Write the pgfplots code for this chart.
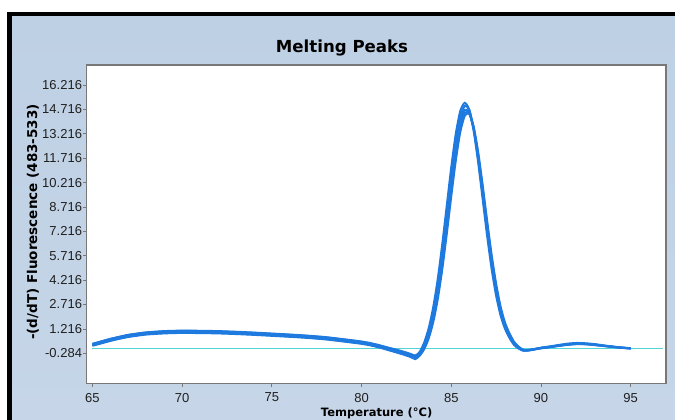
\documentclass[border=0pt]{standalone}
\usepackage{fontspec}
\setmainfont{Liberation Sans}
\newfontfamily\labelfont{DejaVu Sans}
\usepackage{pgfplots}
\usepackage{pgfplotstable}
\pgfplotsset{compat=1.18}

\definecolor{panel}{RGB}{198,214,232}
\definecolor{paneltop}{RGB}{190,208,228}
\definecolor{curve}{RGB}{30,122,222}
\definecolor{base}{RGB}{85,212,214}
\definecolor{framegray}{RGB}{120,120,120}

% melting peak curves, T = temperature, a..e = -(d/dT) fluorescence
\pgfplotstableread{
T     a      b      c      d      e
65.0  0.25   0.20   0.30   0.18   0.28
65.5  0.40   0.35   0.45   0.33   0.44
66.0  0.55   0.50   0.60   0.48   0.60
66.5  0.68   0.63   0.72   0.61   0.73
67.0  0.80   0.75   0.84   0.72   0.85
67.5  0.88   0.83   0.92   0.80   0.93
68.0  0.95   0.90   0.99   0.87   1.00
69.0  1.02   0.97   1.06   0.94   1.08
70.0  1.05   1.00   1.09   0.97   1.11
71.0  1.04   0.99   1.08   0.96   1.10
72.0  1.02   0.97   1.06   0.94   1.08
73.0  0.98   0.93   1.02   0.90   1.04
74.0  0.93   0.88   0.97   0.85   0.99
75.0  0.87   0.82   0.91   0.79   0.93
76.0  0.81   0.76   0.85   0.73   0.87
77.0  0.74   0.69   0.78   0.66   0.80
78.0  0.65   0.60   0.69   0.57   0.71
79.0  0.52   0.47   0.56   0.44   0.58
80.0  0.38   0.33   0.42   0.30   0.44
80.5  0.28   0.23   0.32   0.20   0.34
81.0  0.15   0.10   0.19   0.07   0.21
81.5  0.00  -0.06   0.04  -0.09   0.06
82.0 -0.15  -0.22  -0.10  -0.25  -0.08
82.5 -0.32  -0.39  -0.27  -0.42  -0.24
82.75 -0.42 -0.49  -0.37  -0.52  -0.33
83.0 -0.55  -0.60  -0.50  -0.64  -0.42
83.25 -0.27 -0.36  -0.19  -0.42  -0.20
83.5  0.26   0.10   0.40  -0.01   0.30
83.75 1.08   0.82   1.29   0.66   1.05
84.0  2.27   1.89   2.58   1.65   2.13
84.25 3.90   3.37   4.31   3.06   3.70
84.5  5.94   5.28   6.44   4.89   5.68
84.75 8.25   7.50   8.80   7.06   7.94
85.0 10.60   9.81  11.16   9.37  10.27
85.25 12.70 11.95  13.20  11.55  12.36
85.5 14.24  13.62  14.61  13.31  13.94
85.75 14.93 14.50  15.12  14.32  14.69
86.0 14.70  14.49  14.71  14.45  14.53
86.25 13.56 13.57  13.40  13.65  13.47
86.5 11.74  11.91  11.45  12.10  11.72
86.75 9.55   9.83   9.20  10.07   9.58
87.0  7.30   7.62   6.94   7.87   7.36
87.25 5.24   5.55   4.91   5.78   5.31
87.5  3.54   3.80   3.27   4.00   3.61
87.75 2.24   2.44   2.04   2.59   2.29
88.0  1.35   1.49   1.21   1.59   1.39
88.25 0.75   0.86   0.65   0.93   0.79
88.5  0.30   0.37   0.23   0.42   0.33
88.75 0.05   0.10   0.01   0.13   0.07
89.0 -0.10  -0.08  -0.12  -0.06  -0.11
89.25 -0.10 -0.11  -0.09  -0.09  -0.12
89.5 -0.06  -0.07  -0.05  -0.05  -0.08
90.0  0.05   0.03   0.06   0.04   0.02
90.5  0.12   0.10   0.14   0.11   0.09
91.0  0.20   0.18   0.23   0.19   0.17
91.5  0.28   0.25   0.31   0.26   0.24
92.0  0.32   0.29   0.35   0.30   0.28
92.5  0.30   0.28   0.33   0.29   0.27
93.0  0.25   0.23   0.28   0.24   0.22
93.5  0.18   0.17   0.20   0.18   0.16
94.0  0.12   0.11   0.13   0.12   0.10
94.5  0.06   0.06   0.07   0.06   0.05
95.0  0.02   0.02   0.03   0.02   0.01
}\peaks

\begin{document}
\begin{tikzpicture}[x=1pt,y=1pt]
% window background
\fill[white] (0,0) rectangle (675,420);
\fill[black] (7,0) rectangle (675,408);
\shade[top color=paneltop, bottom color=panel] (12,0) rectangle (675,403);

\begin{axis}[
  at={(86.7pt,36.7pt)}, anchor=south west,
  scale only axis,
  width=579.3pt, height=318.3pt,
  xmin=64.68, xmax=96.97,
  ymin=-2.13, ymax=17.45,
  axis background/.style={fill=white},
  axis line style={framegray, line width=1.3pt},
  xtick={65,70,75,80,85,90,95},
  xticklabels={65,70,75,80,85,90,95},
  ytick={-0.284,1.216,2.716,4.216,5.716,7.216,8.716,10.216,11.716,13.216,14.716,16.216},
  yticklabels={-0.284,1.216,2.716,4.216,5.716,7.216,8.716,10.216,11.716,13.216,14.716,16.216},
  tick align=outside,
  xtick pos=bottom, ytick pos=left,
  major tick length=3.5pt,
  tick style={framegray, line width=0.8pt},
  tick label style={font=\fontsize{13}{13}\selectfont, text=black!88},
  yticklabel style={anchor=east, inner sep=0pt, xshift=-1pt},
  xticklabel style={anchor=north, inner sep=0pt, yshift=-6pt},
  clip=true,
]
\addplot[base, line width=1.5pt] coordinates {(65,0) (96.8,0)};
\addplot[curve, line width=2pt, smooth, tension=0.4] table[x=T, y=a] {\peaks};
\addplot[curve, line width=2pt, smooth, tension=0.4] table[x=T, y=b] {\peaks};
\addplot[curve, line width=2pt, smooth, tension=0.4] table[x=T, y=c] {\peaks};
\addplot[curve, line width=2pt, smooth, tension=0.4] table[x=T, y=d] {\peaks};
\addplot[curve, line width=2pt, smooth, tension=0.4] table[x=T, y=e] {\peaks};
\end{axis}

\node[anchor=base, font=\labelfont\bfseries\fontsize{16.6}{17}\selectfont] at (342,367) {Melting Peaks};
\node[anchor=base, rotate=90, font=\labelfont\bfseries\fontsize{13.5}{14}\selectfont] at (37,198) {-(d/dT) Fluorescence (483-533)};
\node[anchor=base, font=\labelfont\bfseries\fontsize{11.5}{12}\selectfont] at (376.7,3) {Temperature (°C)};

\pgfresetboundingbox
\useasboundingbox (0,0) rectangle (675,420);
\end{tikzpicture}
\end{document}
